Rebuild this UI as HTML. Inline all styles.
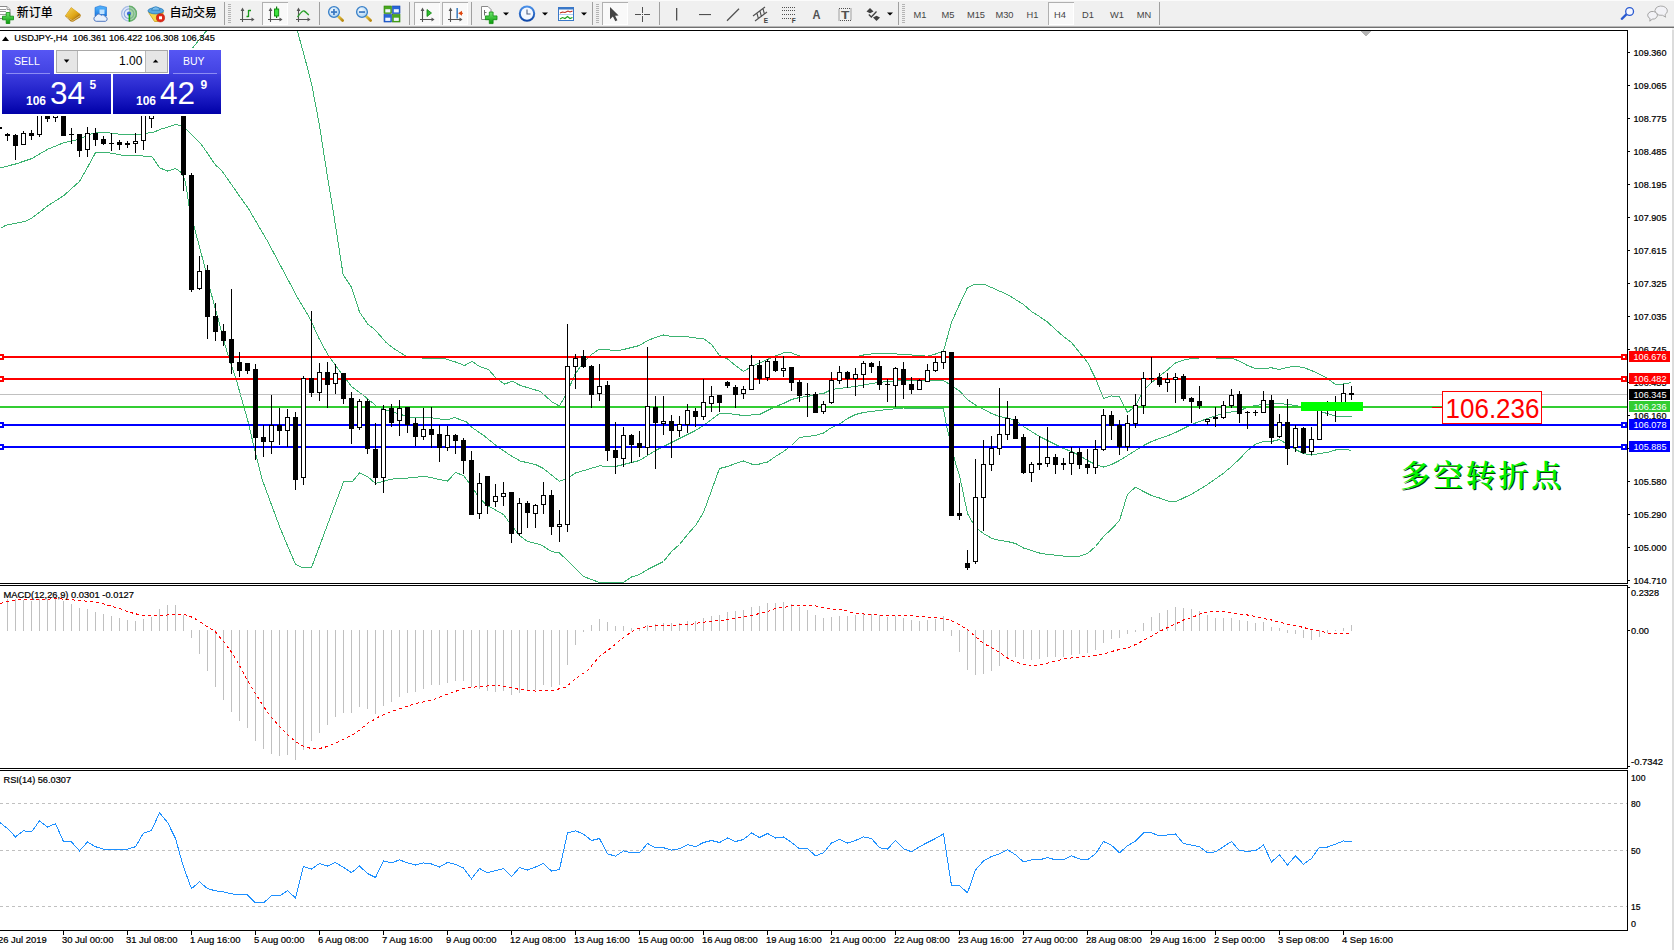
<!DOCTYPE html>
<html lang="zh"><head><meta charset="utf-8"><title>USDJPY-,H4</title>
<style>
html,body{margin:0;padding:0;background:#fff;}
body{width:1674px;height:950px;position:relative;overflow:hidden;font-family:"Liberation Sans","Noto Sans CJK SC",sans-serif;}
#toolbar{position:absolute;left:0;top:0;width:1674px;height:30px;background:#f0f0f0;}
#toolbar .tb{position:absolute;left:0;top:0;}
#toolbar span{position:absolute;white-space:nowrap;}
.cn{font-size:12px;color:#000;top:6.3px;line-height:14px;}
.tf{font-size:9.3px;color:#444;top:9.6px;line-height:11px;width:28px;text-align:center;}
#chart{position:absolute;left:0;top:0;}
#chart text{font-family:"Liberation Sans","Noto Sans CJK SC",sans-serif;}
#chart text.s{stroke:#000;stroke-width:0.22px;}
#panel{position:absolute;left:0;top:0;width:230px;height:120px;}
#panel div{position:absolute;}
#panel span{position:absolute;white-space:nowrap;color:#fff;}
</style></head><body>
<svg id="chart" width="1674" height="950" viewBox="0 0 1674 950">
<rect x="0" y="0" width="1674" height="950" fill="#fff"/>
<rect x="1672" y="28" width="2" height="922" fill="#dcdcdc"/>
<g shape-rendering="crispEdges">
<clipPath id="cm"><rect x="0" y="31" width="1627" height="552"/></clipPath>
<g clip-path="url(#cm)">
<polyline fill="none" stroke="#3cb371" stroke-width="1" points="150.5,100.5 190.5,50.5 207.5,29.5"/>
<polyline fill="none" stroke="#3cb371" stroke-width="1" points="297.0,29.5 305.5,60.5 311.5,83.5 319.5,125.5 326.5,170.5 335.5,225.5 343.1,274.5 351.5,287.1 359.5,312.0 368.0,324.5 374.5,329.2 386.1,342.5 393.5,348.3 406.0,356.3 415.5,357.5 431.5,358.8 445.2,358.8 456.5,362.3 464.5,365.5 472.0,361.3 479.5,366.5 488.3,369.3 495.9,377.9 504.5,384.1 512.2,381.2 520.5,385.5 540.5,391.5 551.5,401.5 559.5,406.1 567.5,391.5 575.5,373.5 583.5,362.5 591.5,354.5 599.5,349.1 607.5,349.5 615.5,351.0 623.5,349.5 631.5,347.5 639.5,345.5 647.5,340.5 655.5,337.5 663.5,335.0 671.5,336.5 687.5,336.7 695.5,338.0 703.5,338.5 711.5,344.5 719.5,355.5 727.5,359.0 735.5,365.5 743.5,371.5 751.5,366.5 759.5,363.1 767.5,359.5 775.5,356.0 783.5,352.9 791.5,352.9 799.5,356.0 821.5,356.0 824.5,357.5 855.5,357.0 863.5,355.0 871.5,353.9 895.5,353.9 919.5,355.5 927.5,356.2 935.5,354.0 943.5,351.0 951.5,322.5 959.5,304.5 967.5,287.5 975.5,284.1 983.5,284.1 991.5,287.5 999.5,291.1 1007.5,294.5 1015.5,299.5 1023.5,304.5 1031.5,311.5 1039.5,316.5 1047.5,322.1 1055.5,329.5 1063.5,336.5 1071.5,342.5 1079.5,352.5 1087.5,362.3 1095.5,378.5 1103.5,398.5 1111.5,395.9 1119.5,396.9 1127.5,412.5 1135.5,406.1 1143.5,390.5 1151.5,382.5 1159.5,376.0 1167.5,369.9 1175.5,363.0 1183.5,360.1 1191.5,358.5 1207.5,357.5 1223.5,358.5 1231.5,358.2 1239.5,361.1 1247.5,365.5 1255.5,368.5 1263.5,368.5 1271.5,367.8 1279.5,369.5 1287.5,367.2 1295.5,366.5 1303.5,367.5 1311.5,370.5 1319.5,374.1 1327.5,378.5 1335.5,384.5 1343.5,384.0 1351.5,382.5"/>
<polyline fill="none" stroke="#3cb371" stroke-width="1" points="0.5,167.8 16.3,163.8 32.0,158.5 47.8,149.2 63.5,142.8 79.4,139.2 88.0,134.9 95.8,132.7 108.0,132.7 125.2,134.9 138.1,134.9 148.2,133.0 152.5,132.7 161.1,129.1 176.1,124.5 181.9,126.0 186.9,129.9 201.2,144.2 215.5,165.0 221.7,170.5 240.5,197.5 248.5,208.7 267.5,241.2 284.8,273.7 298.0,298.5 309.5,317.5 319.0,338.5 328.5,355.9 342.0,374.1 351.5,386.5 363.0,395.1 372.5,402.8 376.5,406.5 387.5,410.5 403.2,415.2 410.5,417.5 429.5,417.5 447.2,420.0 454.5,417.5 466.3,421.9 472.0,427.5 483.5,435.3 496.9,446.2 510.3,455.4 520.5,461.1 535.5,464.5 543.5,468.5 551.5,475.1 559.5,481.2 567.5,478.5 575.5,473.0 599.5,465.9 615.5,466.5 623.5,464.5 639.5,460.5 647.5,455.5 655.5,450.5 663.5,446.5 679.5,438.5 695.5,430.5 703.5,425.5 711.5,419.5 719.5,413.5 727.5,413.5 743.5,415.5 759.5,414.5 767.5,410.5 775.5,406.5 783.5,403.5 791.5,399.5 799.5,397.5 807.5,396.5 815.5,394.5 823.5,393.5 831.5,389.5 839.5,388.5 855.5,386.5 871.5,383.5 887.5,381.5 903.5,380.5 943.5,380.5 951.5,385.5 959.5,391.0 967.5,399.5 975.5,405.1 983.5,409.1 991.5,413.5 999.5,416.5 1007.5,418.0 1015.5,420.5 1023.5,426.5 1031.5,431.5 1039.5,436.5 1047.5,440.5 1055.5,444.5 1063.5,448.5 1071.5,451.5 1079.5,455.5 1087.5,460.5 1095.5,464.5 1103.5,467.0 1111.5,464.5 1119.5,460.5 1127.5,455.5 1135.5,450.5 1143.5,445.5 1151.5,441.5 1159.5,438.5 1167.5,435.9 1175.5,432.5 1183.5,428.5 1191.5,424.5 1199.5,421.5 1207.5,418.5 1215.5,415.8 1223.5,413.5 1231.5,412.0 1239.5,410.5 1247.5,407.5 1255.5,405.5 1263.5,404.5 1271.5,404.1 1279.5,403.5 1287.5,404.5 1295.5,405.5 1303.5,407.5 1319.5,411.5 1327.5,413.5 1335.5,416.0 1343.5,416.5 1351.5,417.0"/>
<polyline fill="none" stroke="#3cb371" stroke-width="1" points="0.5,228.1 6.2,225.2 24.9,221.5 32.0,218.0 47.8,205.8 63.5,195.8 79.4,181.5 88.0,166.5 95.8,152.1 105.2,152.1 125.2,155.7 148.2,156.1 152.5,157.1 159.5,167.8 167.5,171.0 175.5,168.5 181.9,172.9 185.5,182.2 189.0,205.8 194.8,229.5 199.1,245.3 205.5,269.9 210.5,291.0 217.5,316.5 226.5,350.2 236.5,380.5 248.3,422.5 255.5,453.5 262.5,480.5 280.5,529.0 295.5,564.5 303.5,568.0 311.5,567.5 343.5,482.0 352.2,481.8 359.5,473.0 367.5,476.5 375.5,483.5 391.5,479.1 415.5,477.5 423.5,476.1 447.5,481.1 455.5,472.5 463.5,475.5 471.5,486.2 479.5,498.5 487.5,505.5 503.5,514.5 511.5,525.5 519.5,535.5 527.5,541.5 540.5,544.5 551.5,551.5 559.5,553.0 567.5,560.5 575.5,568.5 583.5,576.5 591.5,579.5 599.5,582.5 623.5,582.5 631.5,577.0 639.5,574.5 647.5,569.5 655.5,565.5 663.5,561.5 671.5,551.5 679.5,544.5 687.5,534.5 695.5,525.5 703.5,512.5 711.5,490.5 719.5,468.5 727.5,466.5 735.5,463.5 743.5,461.0 751.5,464.0 759.5,464.0 767.5,462.0 775.5,456.5 783.5,451.5 791.5,445.5 799.5,437.5 807.5,436.5 815.5,435.5 823.5,433.0 831.5,427.5 839.5,424.0 847.5,418.5 855.5,414.5 863.5,412.5 871.5,411.5 887.5,409.5 903.5,408.0 943.5,409.0 947.5,430.5 951.5,445.5 955.5,463.5 959.5,475.5 967.5,513.5 975.5,527.5 983.5,533.5 991.5,538.2 999.5,540.5 1007.5,541.5 1015.5,543.5 1023.5,548.0 1031.5,550.5 1039.5,553.0 1047.5,554.5 1055.5,555.1 1063.5,556.1 1079.5,556.1 1087.5,553.5 1095.5,546.5 1103.5,536.5 1111.5,529.1 1119.5,520.5 1127.5,494.2 1135.5,487.1 1143.5,491.5 1151.5,495.5 1159.5,498.0 1167.5,500.9 1175.5,501.9 1183.5,498.0 1191.5,494.2 1199.5,489.5 1207.5,484.5 1215.5,478.9 1223.5,473.2 1231.5,466.5 1239.5,459.0 1247.5,450.5 1255.5,444.1 1263.5,441.5 1271.5,441.5 1279.5,439.5 1287.5,444.5 1295.5,449.5 1303.5,453.5 1311.5,455.1 1319.5,453.5 1327.5,452.5 1335.5,450.0 1343.5,449.5 1351.5,450.2"/>
<rect x="0" y="394" width="1627" height="1" fill="#c0c0c0"/>
<rect x="0" y="356" width="1627" height="2" fill="#ff0000"/>
<rect x="-2" y="354" width="6" height="6" fill="#ff0000"/>
<rect x="0" y="356" width="2" height="2" fill="#fff"/>
<rect x="1621" y="354" width="6" height="6" fill="#ff0000"/>
<rect x="1623" y="356" width="2" height="2" fill="#fff"/>
<rect x="0" y="378" width="1627" height="2" fill="#ff0000"/>
<rect x="-2" y="376" width="6" height="6" fill="#ff0000"/>
<rect x="0" y="378" width="2" height="2" fill="#fff"/>
<rect x="1621" y="376" width="6" height="6" fill="#ff0000"/>
<rect x="1623" y="378" width="2" height="2" fill="#fff"/>
<rect x="0" y="406" width="1627" height="2" fill="#32cd32"/>
<rect x="0" y="424" width="1627" height="2" fill="#0000ff"/>
<rect x="-2" y="422" width="6" height="6" fill="#0000ff"/>
<rect x="0" y="424" width="2" height="2" fill="#fff"/>
<rect x="1621" y="422" width="6" height="6" fill="#0000ff"/>
<rect x="1623" y="424" width="2" height="2" fill="#fff"/>
<rect x="0" y="446" width="1627" height="2" fill="#0000ff"/>
<rect x="-2" y="444" width="6" height="6" fill="#0000ff"/>
<rect x="0" y="446" width="2" height="2" fill="#fff"/>
<rect x="1621" y="444" width="6" height="6" fill="#0000ff"/>
<rect x="1623" y="446" width="2" height="2" fill="#fff"/>
<rect x="-1" y="127" width="1" height="2" fill="#000"/>
<rect x="-3" y="127" width="5" height="2" fill="#000"/>
<rect x="7" y="133" width="1" height="8" fill="#000"/>
<rect x="5" y="134" width="5" height="2" fill="#000"/>
<rect x="15" y="134" width="1" height="26" fill="#000"/>
<rect x="13" y="135" width="5" height="11" fill="#000"/>
<rect x="23" y="131" width="1" height="14" fill="#000"/>
<rect x="21" y="133" width="5" height="12" fill="#000"/>
<rect x="22" y="134" width="3" height="10" fill="#fff"/>
<rect x="31" y="130" width="1" height="10" fill="#000"/>
<rect x="29" y="133" width="5" height="3" fill="#000"/>
<rect x="39" y="100" width="1" height="37" fill="#000"/>
<rect x="37" y="100" width="5" height="35" fill="#000"/>
<rect x="38" y="101" width="3" height="33" fill="#fff"/>
<rect x="47" y="100" width="1" height="22" fill="#000"/>
<rect x="45" y="100" width="5" height="19" fill="#000"/>
<rect x="55" y="100" width="1" height="22" fill="#000"/>
<rect x="53" y="100" width="5" height="18" fill="#000"/>
<rect x="54" y="101" width="3" height="16" fill="#fff"/>
<rect x="63" y="100" width="1" height="36" fill="#000"/>
<rect x="61" y="100" width="5" height="36" fill="#000"/>
<rect x="71" y="128" width="1" height="16" fill="#000"/>
<rect x="69" y="134" width="5" height="1" fill="#000"/>
<rect x="79" y="134" width="1" height="23" fill="#000"/>
<rect x="77" y="134" width="5" height="17" fill="#000"/>
<rect x="87" y="127" width="1" height="30" fill="#000"/>
<rect x="85" y="133" width="5" height="17" fill="#000"/>
<rect x="86" y="134" width="3" height="15" fill="#fff"/>
<rect x="95" y="128" width="1" height="18" fill="#000"/>
<rect x="93" y="133" width="5" height="7" fill="#000"/>
<rect x="103" y="136" width="1" height="9" fill="#000"/>
<rect x="101" y="139" width="5" height="5" fill="#000"/>
<rect x="111" y="133" width="1" height="18" fill="#000"/>
<rect x="109" y="143" width="5" height="1" fill="#000"/>
<rect x="119" y="140" width="1" height="10" fill="#000"/>
<rect x="117" y="142" width="5" height="3" fill="#000"/>
<rect x="127" y="141" width="1" height="7" fill="#000"/>
<rect x="125" y="143" width="5" height="2" fill="#000"/>
<rect x="135" y="133" width="1" height="20" fill="#000"/>
<rect x="133" y="141" width="5" height="3" fill="#000"/>
<rect x="134" y="142" width="3" height="1" fill="#fff"/>
<rect x="143" y="100" width="1" height="50" fill="#000"/>
<rect x="141" y="100" width="5" height="41" fill="#000"/>
<rect x="142" y="101" width="3" height="39" fill="#fff"/>
<rect x="151" y="100" width="1" height="28" fill="#000"/>
<rect x="149" y="100" width="5" height="19" fill="#000"/>
<rect x="150" y="101" width="3" height="17" fill="#fff"/>
<rect x="183" y="100" width="1" height="91" fill="#000"/>
<rect x="181" y="100" width="5" height="75" fill="#000"/>
<rect x="191" y="173" width="1" height="119" fill="#000"/>
<rect x="189" y="175" width="5" height="115" fill="#000"/>
<rect x="199" y="256" width="1" height="34" fill="#000"/>
<rect x="197" y="271" width="5" height="18" fill="#000"/>
<rect x="198" y="272" width="3" height="16" fill="#fff"/>
<rect x="207" y="265" width="1" height="74" fill="#000"/>
<rect x="205" y="270" width="5" height="47" fill="#000"/>
<rect x="215" y="303" width="1" height="38" fill="#000"/>
<rect x="213" y="316" width="5" height="16" fill="#000"/>
<rect x="223" y="324" width="1" height="22" fill="#000"/>
<rect x="221" y="331" width="5" height="10" fill="#000"/>
<rect x="231" y="289" width="1" height="85" fill="#000"/>
<rect x="229" y="339" width="5" height="24" fill="#000"/>
<rect x="239" y="352" width="1" height="25" fill="#000"/>
<rect x="237" y="362" width="5" height="9" fill="#000"/>
<rect x="247" y="363" width="1" height="11" fill="#000"/>
<rect x="245" y="363" width="5" height="8" fill="#000"/>
<rect x="255" y="364" width="1" height="96" fill="#000"/>
<rect x="253" y="369" width="5" height="69" fill="#000"/>
<rect x="263" y="425" width="1" height="32" fill="#000"/>
<rect x="261" y="437" width="5" height="5" fill="#000"/>
<rect x="271" y="395" width="1" height="59" fill="#000"/>
<rect x="269" y="425" width="5" height="17" fill="#000"/>
<rect x="270" y="426" width="3" height="15" fill="#fff"/>
<rect x="279" y="408" width="1" height="37" fill="#000"/>
<rect x="277" y="425" width="5" height="6" fill="#000"/>
<rect x="287" y="409" width="1" height="38" fill="#000"/>
<rect x="285" y="417" width="5" height="14" fill="#000"/>
<rect x="286" y="418" width="3" height="12" fill="#fff"/>
<rect x="295" y="412" width="1" height="78" fill="#000"/>
<rect x="293" y="417" width="5" height="63" fill="#000"/>
<rect x="303" y="376" width="1" height="109" fill="#000"/>
<rect x="301" y="378" width="5" height="100" fill="#000"/>
<rect x="302" y="379" width="3" height="98" fill="#fff"/>
<rect x="311" y="311" width="1" height="86" fill="#000"/>
<rect x="309" y="378" width="5" height="15" fill="#000"/>
<rect x="319" y="363" width="1" height="38" fill="#000"/>
<rect x="317" y="372" width="5" height="21" fill="#000"/>
<rect x="318" y="373" width="3" height="19" fill="#fff"/>
<rect x="327" y="362" width="1" height="46" fill="#000"/>
<rect x="325" y="372" width="5" height="13" fill="#000"/>
<rect x="335" y="364" width="1" height="30" fill="#000"/>
<rect x="333" y="373" width="5" height="11" fill="#000"/>
<rect x="334" y="374" width="3" height="9" fill="#fff"/>
<rect x="343" y="373" width="1" height="31" fill="#000"/>
<rect x="341" y="373" width="5" height="26" fill="#000"/>
<rect x="351" y="392" width="1" height="52" fill="#000"/>
<rect x="349" y="398" width="5" height="31" fill="#000"/>
<rect x="359" y="399" width="1" height="31" fill="#000"/>
<rect x="357" y="401" width="5" height="27" fill="#000"/>
<rect x="358" y="402" width="3" height="25" fill="#fff"/>
<rect x="367" y="399" width="1" height="55" fill="#000"/>
<rect x="365" y="401" width="5" height="48" fill="#000"/>
<rect x="375" y="423" width="1" height="62" fill="#000"/>
<rect x="373" y="449" width="5" height="29" fill="#000"/>
<rect x="383" y="405" width="1" height="88" fill="#000"/>
<rect x="381" y="409" width="5" height="69" fill="#000"/>
<rect x="382" y="410" width="3" height="67" fill="#fff"/>
<rect x="391" y="404" width="1" height="23" fill="#000"/>
<rect x="389" y="408" width="5" height="15" fill="#000"/>
<rect x="399" y="400" width="1" height="36" fill="#000"/>
<rect x="397" y="408" width="5" height="13" fill="#000"/>
<rect x="398" y="409" width="3" height="11" fill="#fff"/>
<rect x="407" y="407" width="1" height="26" fill="#000"/>
<rect x="405" y="407" width="5" height="18" fill="#000"/>
<rect x="415" y="418" width="1" height="28" fill="#000"/>
<rect x="413" y="423" width="5" height="14" fill="#000"/>
<rect x="423" y="408" width="1" height="32" fill="#000"/>
<rect x="421" y="429" width="5" height="8" fill="#000"/>
<rect x="422" y="430" width="3" height="6" fill="#fff"/>
<rect x="431" y="407" width="1" height="41" fill="#000"/>
<rect x="429" y="429" width="5" height="6" fill="#000"/>
<rect x="439" y="425" width="1" height="37" fill="#000"/>
<rect x="437" y="434" width="5" height="14" fill="#000"/>
<rect x="447" y="426" width="1" height="25" fill="#000"/>
<rect x="445" y="435" width="5" height="13" fill="#000"/>
<rect x="446" y="436" width="3" height="11" fill="#fff"/>
<rect x="455" y="434" width="1" height="20" fill="#000"/>
<rect x="453" y="435" width="5" height="6" fill="#000"/>
<rect x="463" y="438" width="1" height="36" fill="#000"/>
<rect x="461" y="440" width="5" height="21" fill="#000"/>
<rect x="471" y="451" width="1" height="64" fill="#000"/>
<rect x="469" y="460" width="5" height="55" fill="#000"/>
<rect x="479" y="473" width="1" height="46" fill="#000"/>
<rect x="477" y="483" width="5" height="31" fill="#000"/>
<rect x="478" y="484" width="3" height="29" fill="#fff"/>
<rect x="487" y="476" width="1" height="38" fill="#000"/>
<rect x="485" y="476" width="5" height="30" fill="#000"/>
<rect x="495" y="484" width="1" height="23" fill="#000"/>
<rect x="493" y="496" width="5" height="6" fill="#000"/>
<rect x="494" y="497" width="3" height="4" fill="#fff"/>
<rect x="503" y="482" width="1" height="24" fill="#000"/>
<rect x="501" y="493" width="5" height="4" fill="#000"/>
<rect x="502" y="494" width="3" height="2" fill="#fff"/>
<rect x="511" y="492" width="1" height="51" fill="#000"/>
<rect x="509" y="492" width="5" height="42" fill="#000"/>
<rect x="519" y="498" width="1" height="38" fill="#000"/>
<rect x="517" y="503" width="5" height="31" fill="#000"/>
<rect x="518" y="504" width="3" height="29" fill="#fff"/>
<rect x="527" y="501" width="1" height="27" fill="#000"/>
<rect x="525" y="503" width="5" height="10" fill="#000"/>
<rect x="535" y="504" width="1" height="24" fill="#000"/>
<rect x="533" y="505" width="5" height="9" fill="#000"/>
<rect x="534" y="506" width="3" height="7" fill="#fff"/>
<rect x="543" y="482" width="1" height="32" fill="#000"/>
<rect x="541" y="495" width="5" height="10" fill="#000"/>
<rect x="542" y="496" width="3" height="8" fill="#fff"/>
<rect x="551" y="490" width="1" height="45" fill="#000"/>
<rect x="549" y="495" width="5" height="32" fill="#000"/>
<rect x="559" y="510" width="1" height="32" fill="#000"/>
<rect x="557" y="524" width="5" height="3" fill="#000"/>
<rect x="558" y="525" width="3" height="1" fill="#fff"/>
<rect x="567" y="324" width="1" height="208" fill="#000"/>
<rect x="565" y="366" width="5" height="159" fill="#000"/>
<rect x="566" y="367" width="3" height="157" fill="#fff"/>
<rect x="575" y="354" width="1" height="35" fill="#000"/>
<rect x="573" y="358" width="5" height="9" fill="#000"/>
<rect x="574" y="359" width="3" height="7" fill="#fff"/>
<rect x="583" y="350" width="1" height="18" fill="#000"/>
<rect x="581" y="356" width="5" height="11" fill="#000"/>
<rect x="591" y="365" width="1" height="43" fill="#000"/>
<rect x="589" y="366" width="5" height="29" fill="#000"/>
<rect x="599" y="364" width="1" height="37" fill="#000"/>
<rect x="597" y="386" width="5" height="8" fill="#000"/>
<rect x="598" y="387" width="3" height="6" fill="#fff"/>
<rect x="607" y="381" width="1" height="80" fill="#000"/>
<rect x="605" y="385" width="5" height="66" fill="#000"/>
<rect x="615" y="422" width="1" height="52" fill="#000"/>
<rect x="613" y="450" width="5" height="8" fill="#000"/>
<rect x="623" y="427" width="1" height="40" fill="#000"/>
<rect x="621" y="435" width="5" height="24" fill="#000"/>
<rect x="622" y="436" width="3" height="22" fill="#fff"/>
<rect x="631" y="434" width="1" height="29" fill="#000"/>
<rect x="629" y="435" width="5" height="10" fill="#000"/>
<rect x="639" y="431" width="1" height="26" fill="#000"/>
<rect x="637" y="443" width="5" height="5" fill="#000"/>
<rect x="647" y="347" width="1" height="108" fill="#000"/>
<rect x="645" y="406" width="5" height="42" fill="#000"/>
<rect x="646" y="407" width="3" height="40" fill="#fff"/>
<rect x="655" y="396" width="1" height="73" fill="#000"/>
<rect x="653" y="407" width="5" height="16" fill="#000"/>
<rect x="663" y="396" width="1" height="39" fill="#000"/>
<rect x="661" y="421" width="5" height="3" fill="#000"/>
<rect x="662" y="422" width="3" height="1" fill="#fff"/>
<rect x="671" y="415" width="1" height="43" fill="#000"/>
<rect x="669" y="421" width="5" height="10" fill="#000"/>
<rect x="679" y="416" width="1" height="21" fill="#000"/>
<rect x="677" y="424" width="5" height="7" fill="#000"/>
<rect x="678" y="425" width="3" height="5" fill="#fff"/>
<rect x="687" y="404" width="1" height="29" fill="#000"/>
<rect x="685" y="410" width="5" height="15" fill="#000"/>
<rect x="686" y="411" width="3" height="13" fill="#fff"/>
<rect x="695" y="408" width="1" height="19" fill="#000"/>
<rect x="693" y="411" width="5" height="6" fill="#000"/>
<rect x="703" y="379" width="1" height="41" fill="#000"/>
<rect x="701" y="402" width="5" height="15" fill="#000"/>
<rect x="702" y="403" width="3" height="13" fill="#fff"/>
<rect x="711" y="386" width="1" height="26" fill="#000"/>
<rect x="709" y="396" width="5" height="8" fill="#000"/>
<rect x="710" y="397" width="3" height="6" fill="#fff"/>
<rect x="719" y="395" width="1" height="17" fill="#000"/>
<rect x="717" y="395" width="5" height="8" fill="#000"/>
<rect x="727" y="381" width="1" height="7" fill="#000"/>
<rect x="725" y="382" width="5" height="4" fill="#000"/>
<rect x="735" y="385" width="1" height="23" fill="#000"/>
<rect x="733" y="387" width="5" height="8" fill="#000"/>
<rect x="743" y="386" width="1" height="13" fill="#000"/>
<rect x="741" y="389" width="5" height="5" fill="#000"/>
<rect x="742" y="390" width="3" height="3" fill="#fff"/>
<rect x="751" y="355" width="1" height="35" fill="#000"/>
<rect x="749" y="365" width="5" height="25" fill="#000"/>
<rect x="750" y="366" width="3" height="23" fill="#fff"/>
<rect x="759" y="360" width="1" height="24" fill="#000"/>
<rect x="757" y="365" width="5" height="14" fill="#000"/>
<rect x="767" y="359" width="1" height="22" fill="#000"/>
<rect x="765" y="361" width="5" height="17" fill="#000"/>
<rect x="766" y="362" width="3" height="15" fill="#fff"/>
<rect x="775" y="358" width="1" height="14" fill="#000"/>
<rect x="773" y="361" width="5" height="10" fill="#000"/>
<rect x="783" y="356" width="1" height="21" fill="#000"/>
<rect x="781" y="368" width="5" height="3" fill="#000"/>
<rect x="782" y="369" width="3" height="1" fill="#fff"/>
<rect x="791" y="367" width="1" height="24" fill="#000"/>
<rect x="789" y="367" width="5" height="16" fill="#000"/>
<rect x="799" y="380" width="1" height="22" fill="#000"/>
<rect x="797" y="382" width="5" height="14" fill="#000"/>
<rect x="807" y="383" width="1" height="34" fill="#000"/>
<rect x="805" y="394" width="5" height="1" fill="#000"/>
<rect x="815" y="392" width="1" height="21" fill="#000"/>
<rect x="813" y="394" width="5" height="19" fill="#000"/>
<rect x="823" y="401" width="1" height="13" fill="#000"/>
<rect x="821" y="404" width="5" height="8" fill="#000"/>
<rect x="822" y="405" width="3" height="6" fill="#fff"/>
<rect x="831" y="372" width="1" height="32" fill="#000"/>
<rect x="829" y="380" width="5" height="23" fill="#000"/>
<rect x="830" y="381" width="3" height="21" fill="#fff"/>
<rect x="839" y="366" width="1" height="18" fill="#000"/>
<rect x="837" y="372" width="5" height="9" fill="#000"/>
<rect x="838" y="373" width="3" height="7" fill="#fff"/>
<rect x="847" y="371" width="1" height="17" fill="#000"/>
<rect x="845" y="372" width="5" height="7" fill="#000"/>
<rect x="855" y="368" width="1" height="28" fill="#000"/>
<rect x="853" y="374" width="5" height="5" fill="#000"/>
<rect x="854" y="375" width="3" height="3" fill="#fff"/>
<rect x="863" y="361" width="1" height="27" fill="#000"/>
<rect x="861" y="363" width="5" height="12" fill="#000"/>
<rect x="862" y="364" width="3" height="10" fill="#fff"/>
<rect x="871" y="362" width="1" height="11" fill="#000"/>
<rect x="869" y="363" width="5" height="4" fill="#000"/>
<rect x="879" y="361" width="1" height="29" fill="#000"/>
<rect x="877" y="366" width="5" height="19" fill="#000"/>
<rect x="887" y="379" width="1" height="23" fill="#000"/>
<rect x="885" y="384" width="5" height="1" fill="#000"/>
<rect x="895" y="367" width="1" height="40" fill="#000"/>
<rect x="893" y="368" width="5" height="18" fill="#000"/>
<rect x="894" y="369" width="3" height="16" fill="#fff"/>
<rect x="903" y="362" width="1" height="37" fill="#000"/>
<rect x="901" y="369" width="5" height="16" fill="#000"/>
<rect x="911" y="377" width="1" height="17" fill="#000"/>
<rect x="909" y="384" width="5" height="6" fill="#000"/>
<rect x="919" y="379" width="1" height="11" fill="#000"/>
<rect x="917" y="380" width="5" height="10" fill="#000"/>
<rect x="918" y="381" width="3" height="8" fill="#fff"/>
<rect x="927" y="364" width="1" height="18" fill="#000"/>
<rect x="925" y="370" width="5" height="12" fill="#000"/>
<rect x="926" y="371" width="3" height="10" fill="#fff"/>
<rect x="935" y="358" width="1" height="14" fill="#000"/>
<rect x="933" y="362" width="5" height="9" fill="#000"/>
<rect x="934" y="363" width="3" height="7" fill="#fff"/>
<rect x="943" y="351" width="1" height="18" fill="#000"/>
<rect x="941" y="351" width="5" height="12" fill="#000"/>
<rect x="942" y="352" width="3" height="10" fill="#fff"/>
<rect x="951" y="352" width="1" height="164" fill="#000"/>
<rect x="949" y="352" width="5" height="164" fill="#000"/>
<rect x="959" y="483" width="1" height="37" fill="#000"/>
<rect x="957" y="513" width="5" height="3" fill="#000"/>
<rect x="967" y="550" width="1" height="20" fill="#000"/>
<rect x="965" y="563" width="5" height="5" fill="#000"/>
<rect x="975" y="459" width="1" height="105" fill="#000"/>
<rect x="973" y="497" width="5" height="65" fill="#000"/>
<rect x="974" y="498" width="3" height="63" fill="#fff"/>
<rect x="983" y="440" width="1" height="91" fill="#000"/>
<rect x="981" y="464" width="5" height="34" fill="#000"/>
<rect x="982" y="465" width="3" height="32" fill="#fff"/>
<rect x="991" y="436" width="1" height="35" fill="#000"/>
<rect x="989" y="448" width="5" height="17" fill="#000"/>
<rect x="990" y="449" width="3" height="15" fill="#fff"/>
<rect x="999" y="388" width="1" height="67" fill="#000"/>
<rect x="997" y="434" width="5" height="15" fill="#000"/>
<rect x="998" y="435" width="3" height="13" fill="#fff"/>
<rect x="1007" y="401" width="1" height="39" fill="#000"/>
<rect x="1005" y="418" width="5" height="17" fill="#000"/>
<rect x="1006" y="419" width="3" height="15" fill="#fff"/>
<rect x="1015" y="416" width="1" height="23" fill="#000"/>
<rect x="1013" y="419" width="5" height="20" fill="#000"/>
<rect x="1023" y="434" width="1" height="40" fill="#000"/>
<rect x="1021" y="437" width="5" height="36" fill="#000"/>
<rect x="1031" y="462" width="1" height="20" fill="#000"/>
<rect x="1029" y="464" width="5" height="9" fill="#000"/>
<rect x="1030" y="465" width="3" height="7" fill="#fff"/>
<rect x="1039" y="436" width="1" height="34" fill="#000"/>
<rect x="1037" y="463" width="5" height="2" fill="#000"/>
<rect x="1047" y="427" width="1" height="40" fill="#000"/>
<rect x="1045" y="457" width="5" height="7" fill="#000"/>
<rect x="1046" y="458" width="3" height="5" fill="#fff"/>
<rect x="1055" y="454" width="1" height="20" fill="#000"/>
<rect x="1053" y="457" width="5" height="8" fill="#000"/>
<rect x="1063" y="458" width="1" height="12" fill="#000"/>
<rect x="1061" y="463" width="5" height="2" fill="#000"/>
<rect x="1071" y="447" width="1" height="28" fill="#000"/>
<rect x="1069" y="452" width="5" height="12" fill="#000"/>
<rect x="1070" y="453" width="3" height="10" fill="#fff"/>
<rect x="1079" y="448" width="1" height="21" fill="#000"/>
<rect x="1077" y="452" width="5" height="13" fill="#000"/>
<rect x="1087" y="449" width="1" height="25" fill="#000"/>
<rect x="1085" y="464" width="5" height="4" fill="#000"/>
<rect x="1095" y="440" width="1" height="34" fill="#000"/>
<rect x="1093" y="449" width="5" height="19" fill="#000"/>
<rect x="1094" y="450" width="3" height="17" fill="#fff"/>
<rect x="1103" y="409" width="1" height="42" fill="#000"/>
<rect x="1101" y="415" width="5" height="35" fill="#000"/>
<rect x="1102" y="416" width="3" height="33" fill="#fff"/>
<rect x="1111" y="411" width="1" height="29" fill="#000"/>
<rect x="1109" y="415" width="5" height="11" fill="#000"/>
<rect x="1119" y="420" width="1" height="35" fill="#000"/>
<rect x="1117" y="425" width="5" height="22" fill="#000"/>
<rect x="1127" y="415" width="1" height="36" fill="#000"/>
<rect x="1125" y="423" width="5" height="24" fill="#000"/>
<rect x="1126" y="424" width="3" height="22" fill="#fff"/>
<rect x="1135" y="394" width="1" height="34" fill="#000"/>
<rect x="1133" y="405" width="5" height="19" fill="#000"/>
<rect x="1134" y="406" width="3" height="17" fill="#fff"/>
<rect x="1143" y="372" width="1" height="42" fill="#000"/>
<rect x="1141" y="378" width="5" height="28" fill="#000"/>
<rect x="1142" y="379" width="3" height="26" fill="#fff"/>
<rect x="1151" y="357" width="1" height="26" fill="#000"/>
<rect x="1149" y="378" width="5" height="1" fill="#000"/>
<rect x="1159" y="373" width="1" height="14" fill="#000"/>
<rect x="1157" y="377" width="5" height="8" fill="#000"/>
<rect x="1167" y="373" width="1" height="19" fill="#000"/>
<rect x="1165" y="379" width="5" height="4" fill="#000"/>
<rect x="1166" y="380" width="3" height="2" fill="#fff"/>
<rect x="1175" y="373" width="1" height="30" fill="#000"/>
<rect x="1173" y="377" width="5" height="3" fill="#000"/>
<rect x="1174" y="378" width="3" height="1" fill="#fff"/>
<rect x="1183" y="374" width="1" height="27" fill="#000"/>
<rect x="1181" y="376" width="5" height="23" fill="#000"/>
<rect x="1191" y="397" width="1" height="26" fill="#000"/>
<rect x="1189" y="398" width="5" height="4" fill="#000"/>
<rect x="1199" y="386" width="1" height="23" fill="#000"/>
<rect x="1197" y="401" width="5" height="5" fill="#000"/>
<rect x="1207" y="419" width="1" height="6" fill="#000"/>
<rect x="1205" y="419" width="5" height="3" fill="#000"/>
<rect x="1206" y="420" width="3" height="1" fill="#fff"/>
<rect x="1215" y="407" width="1" height="20" fill="#000"/>
<rect x="1213" y="417" width="5" height="2" fill="#000"/>
<rect x="1223" y="401" width="1" height="18" fill="#000"/>
<rect x="1221" y="405" width="5" height="13" fill="#000"/>
<rect x="1222" y="406" width="3" height="11" fill="#fff"/>
<rect x="1231" y="389" width="1" height="19" fill="#000"/>
<rect x="1229" y="395" width="5" height="11" fill="#000"/>
<rect x="1230" y="396" width="3" height="9" fill="#fff"/>
<rect x="1239" y="391" width="1" height="32" fill="#000"/>
<rect x="1237" y="394" width="5" height="20" fill="#000"/>
<rect x="1247" y="411" width="1" height="18" fill="#000"/>
<rect x="1245" y="412" width="5" height="1" fill="#000"/>
<rect x="1255" y="410" width="1" height="6" fill="#000"/>
<rect x="1253" y="412" width="5" height="1" fill="#000"/>
<rect x="1263" y="391" width="1" height="22" fill="#000"/>
<rect x="1261" y="400" width="5" height="13" fill="#000"/>
<rect x="1262" y="401" width="3" height="11" fill="#fff"/>
<rect x="1271" y="395" width="1" height="49" fill="#000"/>
<rect x="1269" y="400" width="5" height="38" fill="#000"/>
<rect x="1279" y="414" width="1" height="24" fill="#000"/>
<rect x="1277" y="422" width="5" height="15" fill="#000"/>
<rect x="1278" y="423" width="3" height="13" fill="#fff"/>
<rect x="1287" y="399" width="1" height="66" fill="#000"/>
<rect x="1285" y="422" width="5" height="27" fill="#000"/>
<rect x="1295" y="425" width="1" height="27" fill="#000"/>
<rect x="1293" y="428" width="5" height="20" fill="#000"/>
<rect x="1294" y="429" width="3" height="18" fill="#fff"/>
<rect x="1303" y="427" width="1" height="27" fill="#000"/>
<rect x="1301" y="428" width="5" height="25" fill="#000"/>
<rect x="1311" y="427" width="1" height="28" fill="#000"/>
<rect x="1309" y="439" width="5" height="13" fill="#000"/>
<rect x="1310" y="440" width="3" height="11" fill="#fff"/>
<rect x="1319" y="407" width="1" height="33" fill="#000"/>
<rect x="1317" y="409" width="5" height="31" fill="#000"/>
<rect x="1318" y="410" width="3" height="29" fill="#fff"/>
<rect x="1327" y="401" width="1" height="15" fill="#000"/>
<rect x="1325" y="405" width="5" height="4" fill="#000"/>
<rect x="1326" y="406" width="3" height="2" fill="#fff"/>
<rect x="1335" y="396" width="1" height="26" fill="#000"/>
<rect x="1333" y="403" width="5" height="3" fill="#000"/>
<rect x="1334" y="404" width="3" height="1" fill="#fff"/>
<rect x="1343" y="384" width="1" height="20" fill="#000"/>
<rect x="1341" y="393" width="5" height="11" fill="#000"/>
<rect x="1342" y="394" width="3" height="9" fill="#fff"/>
<rect x="1351" y="386" width="1" height="14" fill="#000"/>
<rect x="1349" y="393" width="5" height="2" fill="#000"/>
<rect x="1301" y="402" width="62" height="9" fill="#00ff00"/>
<rect x="1432" y="407" width="11" height="1" fill="#ff0000"/>
<rect x="1442.5" y="391.5" width="99" height="32" fill="#fff" stroke="#ff0000" stroke-width="1"/>
<polygon points="1360,31 1371,31 1365.5,36.5" fill="#b4b4b4"/>
</g>
<rect x="0" y="30" width="1628" height="1" fill="#000"/>
<rect x="0" y="583" width="1628" height="1" fill="#000"/>
<rect x="0" y="585" width="1628" height="1" fill="#000"/>
<rect x="0" y="768" width="1628" height="1" fill="#000"/>
<rect x="0" y="770" width="1628" height="1" fill="#000"/>
<rect x="0" y="930" width="1628" height="1" fill="#000"/>
<rect x="1627" y="30" width="1" height="553" fill="#000"/>
<rect x="1627" y="585" width="1" height="184" fill="#000"/>
<rect x="1627" y="770" width="1" height="161" fill="#000"/>
<rect x="1628" y="52" width="2" height="1" fill="#000"/>
<rect x="1628" y="85" width="2" height="1" fill="#000"/>
<rect x="1628" y="118" width="2" height="1" fill="#000"/>
<rect x="1628" y="151" width="2" height="1" fill="#000"/>
<rect x="1628" y="184" width="2" height="1" fill="#000"/>
<rect x="1628" y="217" width="2" height="1" fill="#000"/>
<rect x="1628" y="250" width="2" height="1" fill="#000"/>
<rect x="1628" y="283" width="2" height="1" fill="#000"/>
<rect x="1628" y="316" width="2" height="1" fill="#000"/>
<rect x="1628" y="349" width="2" height="1" fill="#000"/>
<rect x="1628" y="382" width="2" height="1" fill="#000"/>
<rect x="1628" y="415" width="2" height="1" fill="#000"/>
<rect x="1628" y="448" width="2" height="1" fill="#000"/>
<rect x="1628" y="481" width="2" height="1" fill="#000"/>
<rect x="1628" y="514" width="2" height="1" fill="#000"/>
<rect x="1628" y="547" width="2" height="1" fill="#000"/>
<rect x="1628" y="580" width="2" height="1" fill="#000"/>
<rect x="1628" y="587" width="2" height="1" fill="#000"/>
<rect x="1628" y="630" width="2" height="1" fill="#000"/>
<rect x="1628" y="766" width="2" height="1" fill="#000"/>
<rect x="63" y="931" width="1" height="4" fill="#000"/>
<rect x="127" y="931" width="1" height="4" fill="#000"/>
<rect x="191" y="931" width="1" height="4" fill="#000"/>
<rect x="255" y="931" width="1" height="4" fill="#000"/>
<rect x="319" y="931" width="1" height="4" fill="#000"/>
<rect x="383" y="931" width="1" height="4" fill="#000"/>
<rect x="447" y="931" width="1" height="4" fill="#000"/>
<rect x="511" y="931" width="1" height="4" fill="#000"/>
<rect x="575" y="931" width="1" height="4" fill="#000"/>
<rect x="639" y="931" width="1" height="4" fill="#000"/>
<rect x="703" y="931" width="1" height="4" fill="#000"/>
<rect x="767" y="931" width="1" height="4" fill="#000"/>
<rect x="831" y="931" width="1" height="4" fill="#000"/>
<rect x="895" y="931" width="1" height="4" fill="#000"/>
<rect x="959" y="931" width="1" height="4" fill="#000"/>
<rect x="1023" y="931" width="1" height="4" fill="#000"/>
<rect x="1087" y="931" width="1" height="4" fill="#000"/>
<rect x="1151" y="931" width="1" height="4" fill="#000"/>
<rect x="1215" y="931" width="1" height="4" fill="#000"/>
<rect x="1279" y="931" width="1" height="4" fill="#000"/>
<rect x="1343" y="931" width="1" height="4" fill="#000"/>
<rect x="7" y="599" width="1" height="32" fill="#c0c0c0"/>
<rect x="15" y="599" width="1" height="32" fill="#c0c0c0"/>
<rect x="23" y="600" width="1" height="31" fill="#c0c0c0"/>
<rect x="31" y="601" width="1" height="30" fill="#c0c0c0"/>
<rect x="39" y="599" width="1" height="32" fill="#c0c0c0"/>
<rect x="47" y="599" width="1" height="32" fill="#c0c0c0"/>
<rect x="55" y="598" width="1" height="33" fill="#c0c0c0"/>
<rect x="63" y="601" width="1" height="30" fill="#c0c0c0"/>
<rect x="71" y="604" width="1" height="27" fill="#c0c0c0"/>
<rect x="79" y="608" width="1" height="23" fill="#c0c0c0"/>
<rect x="87" y="609" width="1" height="22" fill="#c0c0c0"/>
<rect x="95" y="612" width="1" height="19" fill="#c0c0c0"/>
<rect x="103" y="614" width="1" height="17" fill="#c0c0c0"/>
<rect x="111" y="616" width="1" height="15" fill="#c0c0c0"/>
<rect x="119" y="618" width="1" height="13" fill="#c0c0c0"/>
<rect x="127" y="620" width="1" height="11" fill="#c0c0c0"/>
<rect x="135" y="621" width="1" height="10" fill="#c0c0c0"/>
<rect x="143" y="619" width="1" height="12" fill="#c0c0c0"/>
<rect x="151" y="617" width="1" height="14" fill="#c0c0c0"/>
<rect x="159" y="609" width="1" height="22" fill="#c0c0c0"/>
<rect x="167" y="605" width="1" height="26" fill="#c0c0c0"/>
<rect x="175" y="605" width="1" height="26" fill="#c0c0c0"/>
<rect x="183" y="615" width="1" height="16" fill="#c0c0c0"/>
<rect x="191" y="630" width="1" height="8" fill="#c0c0c0"/>
<rect x="199" y="630" width="1" height="24" fill="#c0c0c0"/>
<rect x="207" y="630" width="1" height="41" fill="#c0c0c0"/>
<rect x="215" y="630" width="1" height="57" fill="#c0c0c0"/>
<rect x="223" y="630" width="1" height="70" fill="#c0c0c0"/>
<rect x="231" y="630" width="1" height="82" fill="#c0c0c0"/>
<rect x="239" y="630" width="1" height="91" fill="#c0c0c0"/>
<rect x="247" y="630" width="1" height="98" fill="#c0c0c0"/>
<rect x="255" y="630" width="1" height="111" fill="#c0c0c0"/>
<rect x="263" y="630" width="1" height="119" fill="#c0c0c0"/>
<rect x="271" y="630" width="1" height="124" fill="#c0c0c0"/>
<rect x="279" y="630" width="1" height="126" fill="#c0c0c0"/>
<rect x="287" y="630" width="1" height="125" fill="#c0c0c0"/>
<rect x="295" y="630" width="1" height="130" fill="#c0c0c0"/>
<rect x="303" y="630" width="1" height="120" fill="#c0c0c0"/>
<rect x="311" y="630" width="1" height="111" fill="#c0c0c0"/>
<rect x="319" y="630" width="1" height="103" fill="#c0c0c0"/>
<rect x="327" y="630" width="1" height="95" fill="#c0c0c0"/>
<rect x="335" y="630" width="1" height="87" fill="#c0c0c0"/>
<rect x="343" y="630" width="1" height="83" fill="#c0c0c0"/>
<rect x="351" y="630" width="1" height="83" fill="#c0c0c0"/>
<rect x="359" y="630" width="1" height="77" fill="#c0c0c0"/>
<rect x="367" y="630" width="1" height="79" fill="#c0c0c0"/>
<rect x="375" y="630" width="1" height="84" fill="#c0c0c0"/>
<rect x="383" y="630" width="1" height="76" fill="#c0c0c0"/>
<rect x="391" y="630" width="1" height="72" fill="#c0c0c0"/>
<rect x="399" y="630" width="1" height="67" fill="#c0c0c0"/>
<rect x="407" y="630" width="1" height="63" fill="#c0c0c0"/>
<rect x="415" y="630" width="1" height="62" fill="#c0c0c0"/>
<rect x="423" y="630" width="1" height="59" fill="#c0c0c0"/>
<rect x="431" y="630" width="1" height="55" fill="#c0c0c0"/>
<rect x="439" y="630" width="1" height="55" fill="#c0c0c0"/>
<rect x="447" y="630" width="1" height="53" fill="#c0c0c0"/>
<rect x="455" y="630" width="1" height="51" fill="#c0c0c0"/>
<rect x="463" y="630" width="1" height="51" fill="#c0c0c0"/>
<rect x="471" y="630" width="1" height="57" fill="#c0c0c0"/>
<rect x="479" y="630" width="1" height="59" fill="#c0c0c0"/>
<rect x="487" y="630" width="1" height="61" fill="#c0c0c0"/>
<rect x="495" y="630" width="1" height="62" fill="#c0c0c0"/>
<rect x="503" y="630" width="1" height="61" fill="#c0c0c0"/>
<rect x="511" y="630" width="1" height="65" fill="#c0c0c0"/>
<rect x="519" y="630" width="1" height="63" fill="#c0c0c0"/>
<rect x="527" y="630" width="1" height="61" fill="#c0c0c0"/>
<rect x="535" y="630" width="1" height="60" fill="#c0c0c0"/>
<rect x="543" y="630" width="1" height="55" fill="#c0c0c0"/>
<rect x="551" y="630" width="1" height="57" fill="#c0c0c0"/>
<rect x="559" y="630" width="1" height="55" fill="#c0c0c0"/>
<rect x="567" y="630" width="1" height="35" fill="#c0c0c0"/>
<rect x="575" y="630" width="1" height="15" fill="#c0c0c0"/>
<rect x="583" y="630" width="1" height="2" fill="#c0c0c0"/>
<rect x="591" y="625" width="1" height="6" fill="#c0c0c0"/>
<rect x="599" y="619" width="1" height="12" fill="#c0c0c0"/>
<rect x="607" y="622" width="1" height="9" fill="#c0c0c0"/>
<rect x="615" y="626" width="1" height="5" fill="#c0c0c0"/>
<rect x="623" y="626" width="1" height="5" fill="#c0c0c0"/>
<rect x="631" y="628" width="1" height="3" fill="#c0c0c0"/>
<rect x="639" y="629" width="1" height="2" fill="#c0c0c0"/>
<rect x="647" y="625" width="1" height="6" fill="#c0c0c0"/>
<rect x="655" y="624" width="1" height="7" fill="#c0c0c0"/>
<rect x="663" y="623" width="1" height="8" fill="#c0c0c0"/>
<rect x="671" y="623" width="1" height="8" fill="#c0c0c0"/>
<rect x="679" y="623" width="1" height="8" fill="#c0c0c0"/>
<rect x="687" y="621" width="1" height="10" fill="#c0c0c0"/>
<rect x="695" y="621" width="1" height="10" fill="#c0c0c0"/>
<rect x="703" y="618" width="1" height="13" fill="#c0c0c0"/>
<rect x="711" y="616" width="1" height="15" fill="#c0c0c0"/>
<rect x="719" y="615" width="1" height="16" fill="#c0c0c0"/>
<rect x="727" y="612" width="1" height="19" fill="#c0c0c0"/>
<rect x="735" y="611" width="1" height="20" fill="#c0c0c0"/>
<rect x="743" y="610" width="1" height="21" fill="#c0c0c0"/>
<rect x="751" y="607" width="1" height="24" fill="#c0c0c0"/>
<rect x="759" y="606" width="1" height="25" fill="#c0c0c0"/>
<rect x="767" y="603" width="1" height="28" fill="#c0c0c0"/>
<rect x="775" y="603" width="1" height="28" fill="#c0c0c0"/>
<rect x="783" y="602" width="1" height="29" fill="#c0c0c0"/>
<rect x="791" y="604" width="1" height="27" fill="#c0c0c0"/>
<rect x="799" y="607" width="1" height="24" fill="#c0c0c0"/>
<rect x="807" y="610" width="1" height="21" fill="#c0c0c0"/>
<rect x="815" y="615" width="1" height="16" fill="#c0c0c0"/>
<rect x="823" y="618" width="1" height="13" fill="#c0c0c0"/>
<rect x="831" y="617" width="1" height="14" fill="#c0c0c0"/>
<rect x="839" y="616" width="1" height="15" fill="#c0c0c0"/>
<rect x="847" y="616" width="1" height="15" fill="#c0c0c0"/>
<rect x="855" y="615" width="1" height="16" fill="#c0c0c0"/>
<rect x="863" y="614" width="1" height="17" fill="#c0c0c0"/>
<rect x="871" y="614" width="1" height="17" fill="#c0c0c0"/>
<rect x="879" y="615" width="1" height="16" fill="#c0c0c0"/>
<rect x="887" y="617" width="1" height="14" fill="#c0c0c0"/>
<rect x="895" y="616" width="1" height="15" fill="#c0c0c0"/>
<rect x="903" y="618" width="1" height="13" fill="#c0c0c0"/>
<rect x="911" y="620" width="1" height="11" fill="#c0c0c0"/>
<rect x="919" y="621" width="1" height="10" fill="#c0c0c0"/>
<rect x="927" y="620" width="1" height="11" fill="#c0c0c0"/>
<rect x="935" y="619" width="1" height="12" fill="#c0c0c0"/>
<rect x="943" y="616" width="1" height="15" fill="#c0c0c0"/>
<rect x="951" y="630" width="1" height="6" fill="#c0c0c0"/>
<rect x="959" y="630" width="1" height="22" fill="#c0c0c0"/>
<rect x="967" y="630" width="1" height="40" fill="#c0c0c0"/>
<rect x="975" y="630" width="1" height="45" fill="#c0c0c0"/>
<rect x="983" y="630" width="1" height="44" fill="#c0c0c0"/>
<rect x="991" y="630" width="1" height="41" fill="#c0c0c0"/>
<rect x="999" y="630" width="1" height="36" fill="#c0c0c0"/>
<rect x="1007" y="630" width="1" height="29" fill="#c0c0c0"/>
<rect x="1015" y="630" width="1" height="27" fill="#c0c0c0"/>
<rect x="1023" y="630" width="1" height="29" fill="#c0c0c0"/>
<rect x="1031" y="630" width="1" height="30" fill="#c0c0c0"/>
<rect x="1039" y="630" width="1" height="29" fill="#c0c0c0"/>
<rect x="1047" y="630" width="1" height="27" fill="#c0c0c0"/>
<rect x="1055" y="630" width="1" height="27" fill="#c0c0c0"/>
<rect x="1063" y="630" width="1" height="27" fill="#c0c0c0"/>
<rect x="1071" y="630" width="1" height="25" fill="#c0c0c0"/>
<rect x="1079" y="630" width="1" height="24" fill="#c0c0c0"/>
<rect x="1087" y="630" width="1" height="23" fill="#c0c0c0"/>
<rect x="1095" y="630" width="1" height="20" fill="#c0c0c0"/>
<rect x="1103" y="630" width="1" height="13" fill="#c0c0c0"/>
<rect x="1111" y="630" width="1" height="9" fill="#c0c0c0"/>
<rect x="1119" y="630" width="1" height="8" fill="#c0c0c0"/>
<rect x="1127" y="630" width="1" height="4" fill="#c0c0c0"/>
<rect x="1135" y="630" width="1" height="2" fill="#c0c0c0"/>
<rect x="1143" y="623" width="1" height="8" fill="#c0c0c0"/>
<rect x="1151" y="617" width="1" height="14" fill="#c0c0c0"/>
<rect x="1159" y="613" width="1" height="18" fill="#c0c0c0"/>
<rect x="1167" y="610" width="1" height="21" fill="#c0c0c0"/>
<rect x="1175" y="607" width="1" height="24" fill="#c0c0c0"/>
<rect x="1183" y="608" width="1" height="23" fill="#c0c0c0"/>
<rect x="1191" y="609" width="1" height="22" fill="#c0c0c0"/>
<rect x="1199" y="611" width="1" height="20" fill="#c0c0c0"/>
<rect x="1207" y="615" width="1" height="16" fill="#c0c0c0"/>
<rect x="1215" y="618" width="1" height="13" fill="#c0c0c0"/>
<rect x="1223" y="618" width="1" height="13" fill="#c0c0c0"/>
<rect x="1231" y="618" width="1" height="13" fill="#c0c0c0"/>
<rect x="1239" y="620" width="1" height="11" fill="#c0c0c0"/>
<rect x="1247" y="621" width="1" height="10" fill="#c0c0c0"/>
<rect x="1255" y="623" width="1" height="8" fill="#c0c0c0"/>
<rect x="1263" y="622" width="1" height="9" fill="#c0c0c0"/>
<rect x="1271" y="627" width="1" height="4" fill="#c0c0c0"/>
<rect x="1279" y="628" width="1" height="3" fill="#c0c0c0"/>
<rect x="1287" y="630" width="1" height="3" fill="#c0c0c0"/>
<rect x="1295" y="630" width="1" height="4" fill="#c0c0c0"/>
<rect x="1303" y="630" width="1" height="8" fill="#c0c0c0"/>
<rect x="1311" y="630" width="1" height="10" fill="#c0c0c0"/>
<rect x="1319" y="630" width="1" height="7" fill="#c0c0c0"/>
<rect x="1327" y="630" width="1" height="3" fill="#c0c0c0"/>
<rect x="1335" y="630" width="1" height="1" fill="#c0c0c0"/>
<rect x="1343" y="628" width="1" height="3" fill="#c0c0c0"/>
<rect x="1351" y="625" width="1" height="6" fill="#c0c0c0"/>
<polyline fill="none" stroke="#ff0000" stroke-width="1" stroke-dasharray="3,3" points="0.5,603.5 7.5,601.5 15.5,599.9 40.5,599.1 60.5,598.9 80.5,600.5 100.5,603.0 110.5,606.0 120.5,608.9 130.5,612.5 140.5,615.0 150.5,615.8 160.5,615.8 170.5,614.5 180.5,614.1 188.5,615.5 196.5,619.5 205.5,625.5 215.5,632.0 223.5,641.5 231.5,652.0 239.5,665.5 247.5,680.5 255.5,693.5 263.5,706.5 271.5,717.5 279.5,726.5 287.5,734.5 295.5,741.5 303.5,746.5 311.5,748.5 319.5,748.5 327.5,746.5 335.5,743.1 343.5,739.5 355.5,733.2 367.5,723.5 379.5,716.5 391.5,711.5 403.5,707.5 415.5,703.5 431.5,700.2 447.5,694.2 463.5,688.5 479.5,686.5 495.5,685.5 511.5,687.5 519.5,689.5 535.5,691.1 551.5,690.5 565.5,687.5 575.5,678.5 587.5,670.5 599.5,656.5 611.5,647.5 623.5,637.5 635.5,629.2 647.5,626.5 663.5,625.1 688.5,624.9 700.5,622.5 720.5,620.5 735.5,618.5 751.5,615.5 759.5,613.5 767.5,611.5 775.5,608.5 783.5,607.5 791.5,606.0 815.5,605.8 823.5,607.9 831.5,608.9 843.5,609.9 851.5,612.5 863.5,614.0 879.5,615.0 887.5,616.0 903.5,615.0 919.5,616.5 935.5,617.5 945.5,619.0 953.5,621.5 960.5,625.5 967.5,629.5 975.5,636.5 983.5,643.5 991.5,647.5 999.5,652.5 1007.5,658.0 1015.5,662.1 1023.5,664.1 1031.5,665.5 1039.5,665.1 1047.5,663.1 1055.5,661.1 1063.5,659.0 1071.5,658.0 1079.5,657.0 1095.5,655.5 1103.5,654.0 1111.5,651.5 1119.5,649.5 1127.5,648.3 1135.5,644.5 1143.5,640.5 1151.5,636.3 1159.5,631.5 1167.5,627.5 1175.5,624.0 1183.5,620.0 1191.5,617.5 1199.5,614.5 1203.5,612.1 1215.5,611.9 1225.5,611.9 1235.5,613.5 1247.5,615.0 1255.5,616.5 1263.5,618.5 1271.5,620.0 1279.5,622.0 1287.5,624.1 1295.5,625.5 1303.5,627.5 1311.5,629.5 1319.5,630.8 1327.5,632.9 1333.5,633.9 1345.5,633.9 1351.5,633.0"/>
<line x1="0" y1="803.5" x2="1627" y2="803.5" stroke="#c0c0c0" stroke-width="1" stroke-dasharray="3,3"/>
<line x1="0" y1="850.5" x2="1627" y2="850.5" stroke="#c0c0c0" stroke-width="1" stroke-dasharray="3,3"/>
<line x1="0" y1="906.5" x2="1627" y2="906.5" stroke="#c0c0c0" stroke-width="1" stroke-dasharray="3,3"/>
<polyline fill="none" stroke="#1e90ff" stroke-width="1" points="-0.5,822.3 7.5,828.5 15.5,836.9 23.5,830.8 31.5,831.9 39.5,820.9 47.5,827.0 55.5,823.7 63.5,841.5 71.5,842.0 79.5,850.8 87.5,842.0 95.5,846.7 103.5,849.1 111.5,849.1 119.5,849.1 127.5,849.1 135.5,846.7 143.5,833.1 151.5,830.5 159.5,812.8 167.5,822.3 175.5,838.5 183.5,867.0 191.5,888.7 199.5,881.8 207.5,888.7 215.5,890.8 223.5,891.8 231.5,893.8 239.5,894.8 247.5,894.8 255.5,902.9 263.5,902.9 271.5,895.8 279.5,895.8 287.5,890.8 295.5,897.9 303.5,866.5 311.5,869.0 319.5,863.5 327.5,866.0 335.5,862.5 343.5,867.4 351.5,872.7 359.5,866.0 367.5,873.5 375.5,877.5 383.5,860.9 391.5,862.9 399.5,859.9 407.5,862.9 415.5,865.0 423.5,862.9 431.5,864.0 439.5,867.0 447.5,862.5 455.5,864.4 463.5,868.0 471.5,878.8 479.5,868.5 487.5,872.7 495.5,870.7 503.5,868.5 511.5,876.7 519.5,867.5 527.5,870.0 535.5,867.0 543.5,863.5 551.5,871.1 559.5,869.5 567.5,832.9 575.5,830.8 583.5,834.1 591.5,840.5 599.5,838.5 607.5,853.8 615.5,856.2 623.5,850.8 631.5,852.8 639.5,852.8 647.5,843.5 655.5,847.7 663.5,847.7 671.5,850.1 679.5,848.7 687.5,844.7 695.5,846.7 703.5,842.5 711.5,840.5 719.5,842.5 727.5,838.0 735.5,841.5 743.5,839.5 751.5,832.9 759.5,837.5 767.5,833.5 775.5,838.0 783.5,836.9 791.5,842.5 799.5,848.7 807.5,848.7 815.5,855.8 823.5,852.8 831.5,843.0 839.5,839.5 847.5,843.0 855.5,840.5 863.5,836.9 871.5,838.5 879.5,847.7 887.5,849.1 895.5,840.5 903.5,848.7 911.5,851.8 919.5,846.7 927.5,842.5 935.5,838.5 943.5,833.9 951.5,885.7 959.5,885.7 967.5,892.8 975.5,870.0 983.5,860.9 991.5,856.5 999.5,853.8 1007.5,849.7 1015.5,854.8 1023.5,861.9 1031.5,859.9 1039.5,859.9 1047.5,857.5 1055.5,859.9 1063.5,859.9 1071.5,855.8 1079.5,858.9 1087.5,859.9 1095.5,853.8 1103.5,841.5 1111.5,845.3 1119.5,852.8 1127.5,845.7 1135.5,841.0 1143.5,832.9 1151.5,832.9 1159.5,835.9 1167.5,834.9 1175.5,833.9 1183.5,843.5 1191.5,845.1 1199.5,846.7 1207.5,852.8 1215.5,851.8 1223.5,846.7 1231.5,841.5 1239.5,850.8 1247.5,851.2 1255.5,850.8 1263.5,845.1 1271.5,861.9 1279.5,854.8 1287.5,865.0 1295.5,855.8 1303.5,864.3 1311.5,858.4 1319.5,847.0 1327.5,847.0 1335.5,844.2 1343.5,840.9 1351.5,841.9"/>
</g>
<text class="s" x="1633.5" y="55.7" font-size="9.6" fill="#000" textLength="33.0" lengthAdjust="spacingAndGlyphs">109.360</text>
<text class="s" x="1633.5" y="88.7" font-size="9.6" fill="#000" textLength="33.0" lengthAdjust="spacingAndGlyphs">109.065</text>
<text class="s" x="1633.5" y="121.7" font-size="9.6" fill="#000" textLength="33.0" lengthAdjust="spacingAndGlyphs">108.775</text>
<text class="s" x="1633.5" y="154.7" font-size="9.6" fill="#000" textLength="33.0" lengthAdjust="spacingAndGlyphs">108.485</text>
<text class="s" x="1633.5" y="187.7" font-size="9.6" fill="#000" textLength="33.0" lengthAdjust="spacingAndGlyphs">108.195</text>
<text class="s" x="1633.5" y="220.7" font-size="9.6" fill="#000" textLength="33.0" lengthAdjust="spacingAndGlyphs">107.905</text>
<text class="s" x="1633.5" y="253.7" font-size="9.6" fill="#000" textLength="33.0" lengthAdjust="spacingAndGlyphs">107.615</text>
<text class="s" x="1633.5" y="286.7" font-size="9.6" fill="#000" textLength="33.0" lengthAdjust="spacingAndGlyphs">107.325</text>
<text class="s" x="1633.5" y="319.7" font-size="9.6" fill="#000" textLength="33.0" lengthAdjust="spacingAndGlyphs">107.035</text>
<text class="s" x="1633.5" y="352.7" font-size="9.6" fill="#000" textLength="33.0" lengthAdjust="spacingAndGlyphs">106.745</text>
<text class="s" x="1633.5" y="385.7" font-size="9.6" fill="#000" textLength="33.0" lengthAdjust="spacingAndGlyphs">106.455</text>
<text class="s" x="1633.5" y="418.7" font-size="9.6" fill="#000" textLength="33.0" lengthAdjust="spacingAndGlyphs">106.160</text>
<text class="s" x="1633.5" y="451.7" font-size="9.6" fill="#000" textLength="33.0" lengthAdjust="spacingAndGlyphs">105.870</text>
<text class="s" x="1633.5" y="484.7" font-size="9.6" fill="#000" textLength="33.0" lengthAdjust="spacingAndGlyphs">105.580</text>
<text class="s" x="1633.5" y="517.7" font-size="9.6" fill="#000" textLength="33.0" lengthAdjust="spacingAndGlyphs">105.290</text>
<text class="s" x="1633.5" y="550.7" font-size="9.6" fill="#000" textLength="33.0" lengthAdjust="spacingAndGlyphs">105.000</text>
<text class="s" x="1633.5" y="583.7" font-size="9.6" fill="#000" textLength="33.0" lengthAdjust="spacingAndGlyphs">104.710</text>
<rect x="1629" y="351" width="41" height="11" fill="#ff0000" shape-rendering="crispEdges"/>
<text x="1633.5" y="360" font-size="9.6" fill="#fff" textLength="33" lengthAdjust="spacingAndGlyphs">106.676</text>
<rect x="1629" y="373" width="41" height="11" fill="#ff0000" shape-rendering="crispEdges"/>
<text x="1633.5" y="382" font-size="9.6" fill="#fff" textLength="33" lengthAdjust="spacingAndGlyphs">106.482</text>
<rect x="1629" y="389" width="41" height="11" fill="#000000" shape-rendering="crispEdges"/>
<text x="1633.5" y="398" font-size="9.6" fill="#fff" textLength="33" lengthAdjust="spacingAndGlyphs">106.345</text>
<rect x="1629" y="401" width="41" height="11" fill="#32cd32" shape-rendering="crispEdges"/>
<text x="1633.5" y="410" font-size="9.6" fill="#fff" textLength="33" lengthAdjust="spacingAndGlyphs">106.236</text>
<rect x="1629" y="419" width="41" height="11" fill="#0000ff" shape-rendering="crispEdges"/>
<text x="1633.5" y="428" font-size="9.6" fill="#fff" textLength="33" lengthAdjust="spacingAndGlyphs">106.078</text>
<rect x="1629" y="441" width="41" height="11" fill="#0000ff" shape-rendering="crispEdges"/>
<text x="1633.5" y="450" font-size="9.6" fill="#fff" textLength="33" lengthAdjust="spacingAndGlyphs">105.885</text>
<text class="s" x="1631.0" y="595.5" font-size="9.6" fill="#000" textLength="28.0" lengthAdjust="spacingAndGlyphs">0.2328</text>
<text class="s" x="1631.0" y="634.0" font-size="9.6" fill="#000" textLength="18.0" lengthAdjust="spacingAndGlyphs">0.00</text>
<text class="s" x="1631.0" y="764.5" font-size="9.6" fill="#000" textLength="32.0" lengthAdjust="spacingAndGlyphs">-0.7342</text>
<text class="s" x="1631.0" y="781.0" font-size="9.6" fill="#000" textLength="14.5" lengthAdjust="spacingAndGlyphs">100</text>
<text class="s" x="1631.0" y="807.0" font-size="9.6" fill="#000" textLength="9.5" lengthAdjust="spacingAndGlyphs">80</text>
<text class="s" x="1631.0" y="854.0" font-size="9.6" fill="#000" textLength="9.5" lengthAdjust="spacingAndGlyphs">50</text>
<text class="s" x="1631.0" y="910.0" font-size="9.6" fill="#000" textLength="9.5" lengthAdjust="spacingAndGlyphs">15</text>
<text class="s" x="1631.0" y="927.0" font-size="9.6" fill="#000" textLength="5.0" lengthAdjust="spacingAndGlyphs">0</text>
<text class="s" x="-2.0" y="943.0" font-size="9.45" fill="#000">26 Jul 2019</text>
<text class="s" x="62.0" y="943.0" font-size="9.45" fill="#000">30 Jul 00:00</text>
<text class="s" x="126.0" y="943.0" font-size="9.45" fill="#000">31 Jul 08:00</text>
<text class="s" x="190.0" y="943.0" font-size="9.45" fill="#000">1 Aug 16:00</text>
<text class="s" x="254.0" y="943.0" font-size="9.45" fill="#000">5 Aug 00:00</text>
<text class="s" x="318.0" y="943.0" font-size="9.45" fill="#000">6 Aug 08:00</text>
<text class="s" x="382.0" y="943.0" font-size="9.45" fill="#000">7 Aug 16:00</text>
<text class="s" x="446.0" y="943.0" font-size="9.45" fill="#000">9 Aug 00:00</text>
<text class="s" x="510.0" y="943.0" font-size="9.45" fill="#000">12 Aug 08:00</text>
<text class="s" x="574.0" y="943.0" font-size="9.45" fill="#000">13 Aug 16:00</text>
<text class="s" x="638.0" y="943.0" font-size="9.45" fill="#000">15 Aug 00:00</text>
<text class="s" x="702.0" y="943.0" font-size="9.45" fill="#000">16 Aug 08:00</text>
<text class="s" x="766.0" y="943.0" font-size="9.45" fill="#000">19 Aug 16:00</text>
<text class="s" x="830.0" y="943.0" font-size="9.45" fill="#000">21 Aug 00:00</text>
<text class="s" x="894.0" y="943.0" font-size="9.45" fill="#000">22 Aug 08:00</text>
<text class="s" x="958.0" y="943.0" font-size="9.45" fill="#000">23 Aug 16:00</text>
<text class="s" x="1022.0" y="943.0" font-size="9.45" fill="#000">27 Aug 00:00</text>
<text class="s" x="1086.0" y="943.0" font-size="9.45" fill="#000">28 Aug 08:00</text>
<text class="s" x="1150.0" y="943.0" font-size="9.45" fill="#000">29 Aug 16:00</text>
<text class="s" x="1214.0" y="943.0" font-size="9.45" fill="#000">2 Sep 00:00</text>
<text class="s" x="1278.0" y="943.0" font-size="9.45" fill="#000">3 Sep 08:00</text>
<text class="s" x="1342.0" y="943.0" font-size="9.45" fill="#000">4 Sep 16:00</text>
<text class="s" x="14.3" y="41.2" font-size="9.6" fill="#000" textLength="200.5" lengthAdjust="spacingAndGlyphs" style="white-space:pre">USDJPY-,H4&#160;&#160;106.361 106.422 106.308 106.345</text>
<polygon points="2,41 9,41 5.5,36.5" fill="#000"/>
<text class="s" x="3.5" y="597.5" font-size="9.6" fill="#000" textLength="130.5" lengthAdjust="spacingAndGlyphs">MACD(12,26,9) 0.0301 -0.0127</text>
<text class="s" x="3.5" y="782.5" font-size="9.6" fill="#000" textLength="67.5" lengthAdjust="spacingAndGlyphs">RSI(14) 56.0307</text>
<text x="1445.5" y="417.5" font-size="27.5" fill="#ff0000" textLength="94" lengthAdjust="spacingAndGlyphs">106.236</text>
<text x="1400.2" y="485.8" font-size="30" font-weight="600" fill="#00f400" style="font-family:'Liberation Serif','Noto Serif CJK SC','Noto Sans CJK SC',serif;text-shadow:1px 1px 0 #0a300a" textLength="161" lengthAdjust="spacing">多空转折点</text>
</svg>
<div id="panel">
<div style="left:0px;top:48px;width:223px;height:68px;background:#fff"></div>
<div style="left:2px;top:50px;width:52px;height:24px;background:linear-gradient(#5656f4,#4242e2)"></div>
<div style="left:169px;top:50px;width:52px;height:24px;background:linear-gradient(#5656f4,#4242e2)"></div>
<div style="left:2px;top:74px;width:109px;height:40px;background:linear-gradient(#3c3cde,#2020c8 50%,#0000a8)"></div>
<div style="left:113px;top:74px;width:108px;height:40px;background:linear-gradient(#3c3cde,#2020c8 50%,#0000a8)"></div>
<div style="left:6px;top:73px;width:44px;height:1px;background:#8c8cf4"></div>
<div style="left:173px;top:73px;width:44px;height:1px;background:#8c8cf4"></div>
<div style="left:56px;top:50px;width:110px;height:21px;background:#fff;border:1px solid #a8a8a8;box-sizing:content-box"></div>
<div style="left:57px;top:51px;width:20px;height:21px;background:#e6e6e6;border-right:1px solid #b8b8b8"></div>
<div style="left:145px;top:51px;width:21px;height:21px;background:#e6e6e6;border-left:1px solid #b8b8b8"></div>
<svg style="position:absolute;left:0;top:0" width="230" height="120"><polygon points="63.8,59.6 69.4,59.6 66.6,62.8" fill="#000"/><polygon points="152.8,62.6 158.4,62.6 155.6,59.4" fill="#000"/></svg>
<span style="left:14px;top:54.3px;font-size:11.7px;line-height:14px;transform:scaleX(0.9);transform-origin:0 0">SELL</span>
<span style="left:182.5px;top:54px;font-size:11.7px;line-height:14px;transform:scaleX(0.9);transform-origin:0 0">BUY</span>
<span style="left:119px;top:54px;font-size:12px;line-height:14px;color:#000;width:23px;text-align:right">1.00</span>
<span style="left:26px;top:94px;font-size:12px;line-height:14px;font-weight:bold">106</span>
<span style="left:50px;top:75px;font-size:31.5px;line-height:36px">34</span>
<span style="left:89.5px;top:78px;font-size:12px;line-height:14px;font-weight:bold">5</span>
<span style="left:136px;top:94px;font-size:12px;line-height:14px;font-weight:bold">106</span>
<span style="left:160px;top:75px;font-size:31.5px;line-height:36px">42</span>
<span style="left:200.5px;top:78px;font-size:12px;line-height:14px;font-weight:bold">9</span>
</div>
<div id="toolbar">
<svg class="tb" width="1674" height="30" viewBox="0 0 1674 30">
<defs>
<linearGradient id="gp" x1="0" y1="0" x2="0" y2="1"><stop offset="0" stop-color="#6fe86f"/><stop offset="1" stop-color="#0a9a0a"/></linearGradient>
<linearGradient id="gold" x1="0" y1="0" x2="1" y2="1"><stop offset="0" stop-color="#f6d860"/><stop offset="0.6" stop-color="#e0a818"/><stop offset="1" stop-color="#a86c08"/></linearGradient>
<linearGradient id="blu" x1="0" y1="0" x2="0" y2="1"><stop offset="0" stop-color="#58b8ff"/><stop offset="1" stop-color="#1878e0"/></linearGradient>
<linearGradient id="gh" x1="0" y1="0" x2="1" y2="1"><stop offset="0" stop-color="#e8c848"/><stop offset="1" stop-color="#b88810"/></linearGradient>
<radialGradient id="lens" cx="0.4" cy="0.35" r="0.7"><stop offset="0" stop-color="#f4faff"/><stop offset="1" stop-color="#a8d0f0"/></radialGradient>
<linearGradient id="clk" x1="0" y1="0" x2="0" y2="1"><stop offset="0" stop-color="#4a90e8"/><stop offset="1" stop-color="#1048a8"/></linearGradient>
</defs>
<rect x="0" y="0" width="1674" height="1" fill="#fbfbfb"/>
<rect x="0" y="26" width="1674" height="1" fill="#b8b8b8"/>
<rect x="0" y="27" width="1674" height="1" fill="#707070"/>
<rect x="0" y="28" width="1672" height="2" fill="#ffffff"/>
<rect x="224" y="2" width="1" height="23" fill="#a0a0a0"/>
<rect x="319" y="2" width="1" height="23" fill="#a0a0a0"/>
<rect x="409" y="2" width="1" height="23" fill="#a0a0a0"/>
<rect x="471" y="2" width="1" height="23" fill="#a0a0a0"/>
<rect x="592" y="2" width="1" height="23" fill="#a0a0a0"/>
<rect x="659" y="2" width="1" height="23" fill="#a0a0a0"/>
<rect x="898" y="2" width="1" height="23" fill="#a0a0a0"/>
<rect x="1159" y="2" width="1" height="23" fill="#a0a0a0"/>
<rect x="228" y="4" width="3" height="1" fill="#b4b4b4"/>
<rect x="228" y="6" width="3" height="1" fill="#b4b4b4"/>
<rect x="228" y="8" width="3" height="1" fill="#b4b4b4"/>
<rect x="228" y="10" width="3" height="1" fill="#b4b4b4"/>
<rect x="228" y="12" width="3" height="1" fill="#b4b4b4"/>
<rect x="228" y="14" width="3" height="1" fill="#b4b4b4"/>
<rect x="228" y="16" width="3" height="1" fill="#b4b4b4"/>
<rect x="228" y="18" width="3" height="1" fill="#b4b4b4"/>
<rect x="228" y="20" width="3" height="1" fill="#b4b4b4"/>
<rect x="228" y="22" width="3" height="1" fill="#b4b4b4"/>
<rect x="596" y="4" width="3" height="1" fill="#b4b4b4"/>
<rect x="596" y="6" width="3" height="1" fill="#b4b4b4"/>
<rect x="596" y="8" width="3" height="1" fill="#b4b4b4"/>
<rect x="596" y="10" width="3" height="1" fill="#b4b4b4"/>
<rect x="596" y="12" width="3" height="1" fill="#b4b4b4"/>
<rect x="596" y="14" width="3" height="1" fill="#b4b4b4"/>
<rect x="596" y="16" width="3" height="1" fill="#b4b4b4"/>
<rect x="596" y="18" width="3" height="1" fill="#b4b4b4"/>
<rect x="596" y="20" width="3" height="1" fill="#b4b4b4"/>
<rect x="596" y="22" width="3" height="1" fill="#b4b4b4"/>
<rect x="902" y="4" width="3" height="1" fill="#b4b4b4"/>
<rect x="902" y="6" width="3" height="1" fill="#b4b4b4"/>
<rect x="902" y="8" width="3" height="1" fill="#b4b4b4"/>
<rect x="902" y="10" width="3" height="1" fill="#b4b4b4"/>
<rect x="902" y="12" width="3" height="1" fill="#b4b4b4"/>
<rect x="902" y="14" width="3" height="1" fill="#b4b4b4"/>
<rect x="902" y="16" width="3" height="1" fill="#b4b4b4"/>
<rect x="902" y="18" width="3" height="1" fill="#b4b4b4"/>
<rect x="902" y="20" width="3" height="1" fill="#b4b4b4"/>
<rect x="902" y="22" width="3" height="1" fill="#b4b4b4"/>
<rect x="262.5" y="2.5" width="25" height="22" fill="#f9f9f9" stroke="#b0b0b0" stroke-width="1"/>
<rect x="263" y="24" width="25" height="1" fill="#fff"/>
<rect x="287" y="3" width="1" height="22" fill="#fff"/>
<rect x="414.5" y="2.5" width="25" height="22" fill="#f9f9f9" stroke="#b0b0b0" stroke-width="1"/>
<rect x="415" y="24" width="25" height="1" fill="#fff"/>
<rect x="439" y="3" width="1" height="22" fill="#fff"/>
<rect x="442.5" y="2.5" width="25" height="22" fill="#f9f9f9" stroke="#b0b0b0" stroke-width="1"/>
<rect x="443" y="24" width="25" height="1" fill="#fff"/>
<rect x="467" y="3" width="1" height="22" fill="#fff"/>
<rect x="602.5" y="2.5" width="25" height="22" fill="#f9f9f9" stroke="#b0b0b0" stroke-width="1"/>
<rect x="603" y="24" width="25" height="1" fill="#fff"/>
<rect x="627" y="3" width="1" height="22" fill="#fff"/>
<rect x="1048.5" y="2.5" width="25" height="22" fill="#f9f9f9" stroke="#b0b0b0" stroke-width="1"/>
<rect x="1049" y="24" width="25" height="1" fill="#fff"/>
<rect x="1073" y="3" width="1" height="22" fill="#fff"/>
<path d="M-1,6.5 H7 L10,9.5 V18.5 H-1 Z" fill="#fff" stroke="#8a8a8a" stroke-width="1"/>
<path d="M7,6.5 V9.5 H10" fill="#e4e4e4" stroke="#8a8a8a" stroke-width="0.8"/>
<rect x="0" y="9" width="6" height="1" fill="#9a9a9a"/>
<rect x="0" y="11" width="6" height="1" fill="#9a9a9a"/>
<rect x="0" y="14" width="6" height="1" fill="#9a9a9a"/>
<polygon points="6.2,12.5 9.8,12.5 9.8,16.2 13.5,16.2 13.5,19.8 9.8,19.8 9.8,23.5 6.2,23.5 6.2,19.8 2.5,19.8 2.5,16.2 6.2,16.2" fill="url(#gp)" stroke="#0c8a0c" stroke-width="0.8"/>
<polygon points="65,16 71.2,7.2 81,15 80,17.4 73,21.8 70.8,21.4" fill="#b47c10"/>
<polygon points="65.3,15.8 71.3,7.4 79.8,13.8 72.4,19.8" fill="url(#gold)"/>
<path d="M66.5,17 L72.6,20.6 L80.3,15.6" fill="none" stroke="#f0d890" stroke-width="0.7"/>
<polygon points="95,7.5 100,5.8 106.5,7.2 106.5,16 95,16" fill="url(#blu)" stroke="#1a6cd0" stroke-width="0.6"/>
<rect x="99.5" y="9.5" width="5" height="4.5" fill="#bfe2ff"/>
<path d="M96.2,21.3 a2.6,2.6 0 0 1 -0.4,-5.1 a3,3 0 0 1 5.4,-0.9 a2.6,2.6 0 0 1 3.9,1.3 a2.4,2.4 0 0 1 0.3,4.7 Z" fill="#e8f0fb" stroke="#5078c0" stroke-width="1"/>
<circle cx="129" cy="13.7" r="7.8" fill="#e4ecf8"/>
<path d="M129,5.9 a7.8,7.8 0 0 1 0,15.6 Z" fill="#a8d4a8"/>
<circle cx="129" cy="13.7" r="7.4" fill="none" stroke="#a8bce4" stroke-width="1.2"/>
<circle cx="129" cy="13.7" r="4.8" fill="none" stroke="#8ca8e0" stroke-width="1.2"/>
<path d="M129,6.3 a7.4,7.4 0 0 1 0,14.8" fill="none" stroke="#68b068" stroke-width="1.4"/>
<path d="M129,8.9 a4.8,4.8 0 0 1 0,9.6" fill="none" stroke="#80c080" stroke-width="1.2"/>
<circle cx="129" cy="13.7" r="2.1" fill="#3a6ad8"/>
<rect x="128.6" y="14" width="1.6" height="7.6" fill="#1ea01e"/>
<polygon points="148.6,12.5 163.5,12.5 158,21.5 154.5,21.5" fill="#f4d648" stroke="#c8a020" stroke-width="0.8"/>
<ellipse cx="155.8" cy="10.8" rx="7.8" ry="3.1" fill="#58a8e0" stroke="#2878b8" stroke-width="0.8"/>
<path d="M151.5,10.2 a4.4,4.4 0 0 1 8.6,0 Z" fill="#7cc0ee" stroke="#2878b8" stroke-width="0.8"/>
<circle cx="160.5" cy="17.8" r="4.1" fill="#e02818" stroke="#b81808" stroke-width="0.6"/>
<rect x="159" y="16.3" width="3" height="3" fill="#fff"/>
<path d="M242.5,9.5 V22 M240.0,19.5 H252.5" stroke="#555" stroke-width="1.1" fill="none"/>
<polygon points="242.5,7.6 240.6,11 244.4,11" fill="#555"/>
<polygon points="254.5,19.5 251.5,17.5 251.5,21.5" fill="#555"/>
<path d="M248.5,10 V17 M246.5,16.5 H248.5 M248.5,10.5 H251" stroke="#1a9a1a" stroke-width="1.3" fill="none"/>
<path d="M270.5,9.5 V22 M268.0,19.5 H280.5" stroke="#555" stroke-width="1.1" fill="none"/>
<polygon points="270.5,7.6 268.6,11 272.4,11" fill="#555"/>
<polygon points="282.5,19.5 279.5,17.5 279.5,21.5" fill="#555"/>
<rect x="276" y="6.5" width="1.2" height="11.5" fill="#0a7a0a"/>
<rect x="274.5" y="9" width="4.2" height="7" fill="#3ce03c" stroke="#0a8a0a" stroke-width="0.9"/>
<path d="M298.5,9.5 V22 M296.0,19.5 H308.5" stroke="#555" stroke-width="1.1" fill="none"/>
<polygon points="298.5,7.6 296.6,11 300.4,11" fill="#555"/>
<polygon points="310.5,19.5 307.5,17.5 307.5,21.5" fill="#555"/>
<path d="M297.5,17 C300,14 302,10.5 304,11 C306,11.5 307.5,14.5 309,15" stroke="#2aa02a" stroke-width="1.3" fill="none"/>
<line x1="338.2" y1="16.2" x2="342.6" y2="20.6" stroke="url(#gh)" stroke-width="2.8" stroke-linecap="round"/>
<circle cx="334" cy="12" r="5.4" fill="url(#lens)" stroke="#3a80c8" stroke-width="1.3"/>
<rect x="331" y="11.2" width="6" height="1.7" fill="#3a78c0"/>
<rect x="333.1" y="9" width="1.7" height="6" fill="#3a78c0"/>
<line x1="366.2" y1="16.2" x2="370.6" y2="20.6" stroke="url(#gh)" stroke-width="2.8" stroke-linecap="round"/>
<circle cx="362" cy="12" r="5.4" fill="url(#lens)" stroke="#3a80c8" stroke-width="1.3"/>
<rect x="359" y="11.2" width="6" height="1.7" fill="#3a78c0"/>
<rect x="384.0" y="6.0" width="7.5" height="7.5" fill="#4aa820" stroke="#2a8008" stroke-width="0.6"/>
<rect x="385.3" y="9.2" width="5" height="3.2" fill="#f0f6ff"/>
<rect x="392.5" y="6.0" width="7.5" height="7.5" fill="#2a68d8" stroke="#1040b0" stroke-width="0.6"/>
<rect x="393.8" y="9.2" width="5" height="3.2" fill="#f0f6ff"/>
<rect x="384.0" y="14.5" width="7.5" height="7.5" fill="#2a68d8" stroke="#1040b0" stroke-width="0.6"/>
<rect x="385.3" y="17.7" width="5" height="3.2" fill="#f0f6ff"/>
<rect x="392.5" y="14.5" width="7.5" height="7.5" fill="#4aa820" stroke="#2a8008" stroke-width="0.6"/>
<rect x="393.8" y="17.7" width="5" height="3.2" fill="#f0f6ff"/>
<path d="M422.5,9.5 V22 M420.0,19.5 H432.5" stroke="#555" stroke-width="1.1" fill="none"/>
<polygon points="422.5,7.6 420.6,11 424.4,11" fill="#555"/>
<polygon points="434.5,19.5 431.5,17.5 431.5,21.5" fill="#555"/>
<polygon points="427,9.5 427,16.5 431.5,13" fill="#30c030" stroke="#108010" stroke-width="0.8"/>
<path d="M450.5,9.5 V22 M448.0,19.5 H460.5" stroke="#555" stroke-width="1.1" fill="none"/>
<polygon points="450.5,7.6 448.6,11 452.4,11" fill="#555"/>
<polygon points="462.5,19.5 459.5,17.5 459.5,21.5" fill="#555"/>
<rect x="456.5" y="8" width="1.3" height="10.5" fill="#1868b8"/>
<polygon points="458.2,13.3 462,10.8 462,15.8" fill="#e04810"/>
<rect x="460" y="12.8" width="3" height="1" fill="#e04810"/>
<path d="M481.5,6.5 H488 L491,9.5 V19.5 H481.5 Z" fill="#fff" stroke="#8a8a8a" stroke-width="1"/>
<path d="M484.5,10 V15.5 M484.5,12.5 H486.5" stroke="#707070" stroke-width="1" fill="none"/>
<polygon points="489.3,12.0 493.1,12.0 493.1,15.9 497.0,15.9 497.0,19.7 493.1,19.7 493.1,23.6 489.3,23.6 489.3,19.7 485.4,19.7 485.4,15.9 489.3,15.9" fill="url(#gp)" stroke="#0c8a0c" stroke-width="0.8"/>
<polygon points="503,12.5 509,12.5 506.0,15.5" fill="#000"/>
<polygon points="542,12.5 548,12.5 545.0,15.5" fill="#000"/>
<polygon points="581,12.5 587,12.5 584.0,15.5" fill="#000"/>
<polygon points="887,12.5 893,12.5 890.0,15.5" fill="#000"/>
<circle cx="527" cy="13.6" r="7.2" fill="#f4f8ff" stroke="url(#clk)" stroke-width="2"/>
<path d="M527,9.5 V14 H530.5" stroke="#506080" stroke-width="1.1" fill="none"/>
<rect x="558.5" y="7.5" width="15" height="13" fill="#fff" stroke="#3a78c8" stroke-width="1"/>
<rect x="558" y="7" width="16" height="2.5" fill="#3a78c8"/>
<rect x="559" y="14" width="14" height="1" fill="#b8d0f0"/>
<path d="M560,13 L562.5,12 L565,12.5 L568,11 L570,12 L572.5,11" stroke="#c02818" stroke-width="1.1" fill="none"/>
<path d="M560,19 L562.5,17.5 L565,18.5 L567.5,16.5 L570,18.5 L572.5,17.5" stroke="#18a018" stroke-width="1.1" fill="none"/>
<polygon points="610,7 610,19.3 612.9,16.6 615.3,21.3 617.4,20.3 615.1,15.7 618.6,15.5" fill="#444"/>
<path d="M642.5,7 V13 M642.5,16 V22 M635,14.5 H641 M644,14.5 H650" stroke="#505050" stroke-width="1" fill="none"/>
<rect x="642" y="14" width="1" height="1" fill="#505050"/>
<rect x="676" y="8" width="1.3" height="12.5" fill="#505050"/>
<rect x="699" y="14" width="12" height="1.1" fill="#505050"/>
<line x1="727" y1="20.8" x2="739" y2="8.8" stroke="#505050" stroke-width="1.3"/>
<path d="M753,16 L765,7 M755,21 L767,12 M757,13.5 L758.5,19 M760,11 L761.5,17 M763,8.5 L764.5,14.5" stroke="#505050" stroke-width="1.1" fill="none"/>
<text x="763.8" y="23.3" font-size="6.5" font-weight="bold" fill="#404040" font-family="Liberation Sans,sans-serif">E</text>
<line x1="782" y1="7.5" x2="795" y2="7.5" stroke="#505050" stroke-width="1" stroke-dasharray="1,1"/>
<line x1="782" y1="10.5" x2="795" y2="10.5" stroke="#505050" stroke-width="1" stroke-dasharray="1,1"/>
<line x1="782" y1="14.5" x2="795" y2="14.5" stroke="#505050" stroke-width="1" stroke-dasharray="1,1"/>
<line x1="782" y1="18.5" x2="791" y2="18.5" stroke="#505050" stroke-width="1" stroke-dasharray="1,1"/>
<text x="791.8" y="23.3" font-size="6.5" font-weight="bold" fill="#404040" font-family="Liberation Sans,sans-serif">F</text>
<text x="812.6" y="18.7" font-size="12" font-weight="bold" fill="#505050" font-family="Liberation Sans,sans-serif" textLength="8" lengthAdjust="spacingAndGlyphs">A</text>
<rect x="839" y="8.5" width="12" height="12" fill="none" stroke="#505050" stroke-width="1" stroke-dasharray="1,1"/>
<text x="841" y="19.3" font-size="11" font-weight="bold" fill="#505050" font-family="Liberation Sans,sans-serif" textLength="8.4" lengthAdjust="spacingAndGlyphs">T</text>
<polygon points="866.5,11.5 870,8 873.5,11.5 870,13.2" fill="#404040"/>
<polygon points="873,17.5 876.5,21 880,17.5 876.5,15.8" fill="#404040"/>
<path d="M868.8,14.5 L871.3,17 L876.5,11.5" stroke="#404040" stroke-width="1.3" fill="none"/>
<line x1="1621.8" y1="18.8" x2="1626.6" y2="14.2" stroke="#2a5ad0" stroke-width="2.3" stroke-linecap="round"/>
<circle cx="1629.6" cy="11.5" r="3.9" fill="#f4f6ff" stroke="#2a5ad0" stroke-width="1.3"/>
<path d="M1656,8 a6.3,4.8 0 1 1 9,6.6 l0.6,2.6 l-3,-1.9 a6.3,4.8 0 0 1 -6.6,-7.3 Z" fill="#f2f2f6" stroke="#a0a0a0" stroke-width="0.9"/>
<path d="M1649,12.6 a4.9,3.9 0 1 1 3.2,6.6 l-2.4,2 l0.3,-2.6 a4.9,3.9 0 0 1 -1.1,-6 Z" fill="#f2f2f6" stroke="#9a9a9a" stroke-width="0.9"/>
</svg>
<span class="cn" style="left:16.8px;font-weight:500">新订单</span>
<span class="cn" style="left:169.6px;letter-spacing:-0.3px;font-weight:500">自动交易</span>
<span class="tf" style="left:906.0px">M1</span>
<span class="tf" style="left:934.0px">M5</span>
<span class="tf" style="left:962.0px">M15</span>
<span class="tf" style="left:990.5px">M30</span>
<span class="tf" style="left:1018.5px">H1</span>
<span class="tf" style="left:1046.0px">H4</span>
<span class="tf" style="left:1074.0px">D1</span>
<span class="tf" style="left:1103.0px">W1</span>
<span class="tf" style="left:1130.0px">MN</span>
</div>
</body></html>
